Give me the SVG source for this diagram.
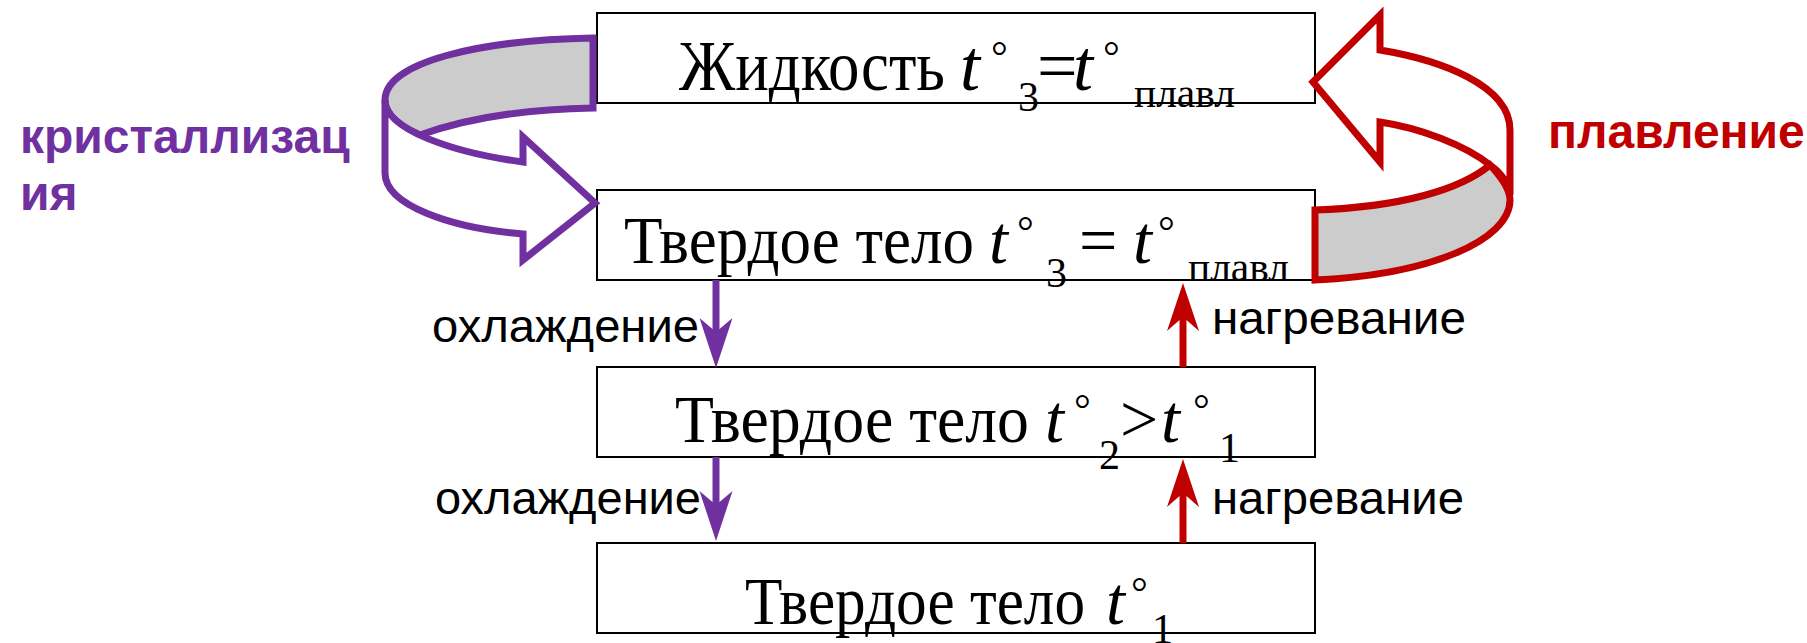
<svg xmlns="http://www.w3.org/2000/svg" width="1807" height="643" viewBox="0 0 1807 643">
<defs>
<style>
.box{fill:#fff;stroke:#000;stroke-width:2}
.t{font-family:"Liberation Serif","Times New Roman",serif;font-size:68px;fill:#000}
.t1{font-size:72px}
.i{font-style:italic}
.deg{font-size:42px}
.sub{font-size:42px}
.lbl{font-family:"Liberation Sans",Arial,sans-serif;font-size:47px;fill:#000}
.big{font-family:"Liberation Sans",Arial,sans-serif;font-size:48px;font-weight:bold}
.pur{stroke:#7030A0}
.red{stroke:#C00000}
.rib{stroke-width:7;stroke-linejoin:miter}
.shaft{stroke-width:7;fill:none}
</style>
<marker id="headP" markerUnits="userSpaceOnUse" markerWidth="60" markerHeight="40" refX="14" refY="17" orient="auto" viewBox="0 0 60 40">
<path d="M0,0.5 L50,17 L0,33.5 L14,17 Z" fill="#7030A0"/>
</marker>
<marker id="headR" markerUnits="userSpaceOnUse" markerWidth="60" markerHeight="40" refX="14" refY="17" orient="auto" viewBox="0 0 60 40">
<path d="M0,1 L48,17 L0,33 L14,17 Z" fill="#C00000"/>
</marker>
</defs>
<rect width="1807" height="643" fill="#fff"/>

<g id="node-liquid">
<rect class="box" x="597" y="13" width="718" height="90"/>
<text class="t t1" y="90"><tspan x="679" textLength="266" lengthAdjust="spacingAndGlyphs">Жидкость</tspan><tspan class="i" x="960">t</tspan><tspan class="deg" x="991" y="70">°</tspan><tspan class="sub" x="1018" y="111">3</tspan><tspan x="1037" y="90">=</tspan><tspan class="i" x="1073">t</tspan><tspan class="deg" x="1103" y="70">°</tspan><tspan class="sub" x="1134" y="107" textLength="101" lengthAdjust="spacingAndGlyphs">плавл</tspan></text>
</g>

<g id="node-solid-melt">
<rect class="box" x="597" y="190" width="718" height="90"/>
<text class="t" y="263"><tspan x="624" textLength="350" lengthAdjust="spacingAndGlyphs">Твердое тело</tspan><tspan class="i" x="989">t</tspan><tspan class="deg" x="1017" y="245">°</tspan><tspan class="sub" x="1046" y="287">3</tspan><tspan x="1079" y="263">=</tspan><tspan class="i" x="1133">t</tspan><tspan class="deg" x="1158" y="245">°</tspan><tspan class="sub" x="1188" y="281" textLength="101" lengthAdjust="spacingAndGlyphs">плавл</tspan></text>
</g>

<g id="node-solid-t2">
<rect class="box" x="597" y="367" width="718" height="90"/>
<text class="t" y="442"><tspan x="675" textLength="354" lengthAdjust="spacingAndGlyphs">Твердое тело</tspan><tspan class="i" x="1045">t</tspan><tspan class="deg" x="1074" y="423">°</tspan><tspan class="sub" x="1099" y="469">2</tspan><tspan x="1120" y="442">&gt;</tspan><tspan class="i" x="1161">t</tspan><tspan class="deg" x="1193" y="423">°</tspan><tspan class="sub" x="1219" y="462">1</tspan></text>
</g>

<g id="node-solid-t1">
<rect class="box" x="597" y="543" width="718" height="90"/>
<text class="t" y="624"><tspan x="745" textLength="340" lengthAdjust="spacingAndGlyphs">Твердое тело</tspan><tspan class="i" x="1106">t</tspan><tspan class="deg" x="1131" y="606">°</tspan><tspan class="sub" x="1152" y="643">1</tspan></text>
</g>

<g id="connectors">
<line class="shaft pur" x1="716" y1="280" x2="716" y2="332" marker-end="url(#headP)"/>
<line class="shaft pur" x1="716" y1="457" x2="716" y2="505" marker-end="url(#headP)"/>
<line class="shaft red" x1="1183" y1="367" x2="1183" y2="317" marker-end="url(#headR)"/>
<line class="shaft red" x1="1183" y1="543" x2="1183" y2="493" marker-end="url(#headR)"/>
</g>

<g id="ribbon-crystallization">
<path class="rib pur" fill="#CCCCCC" d="M593,38 C480,40 385,62 385,100 C385,115 400,127 420,135 C470,117 530,109 593,108 Z"/>
<path class="rib pur" fill="#fff" d="M385,100 L385,173 C385,205 450,228 523,234 L523,260 L595,203 L523,137 L523,162 C455,153 385,130 385,100 Z"/>
</g>

<g id="ribbon-melting">
<path class="rib red" fill="#fff" d="M1510,195 L1510,130 C1510,85 1440,60 1380,50 L1380,15 L1313,82 L1380,162 L1380,122 C1420,128 1465,145 1490,165 C1500,172 1508,182 1510,195 Z"/>
<path class="rib red" fill="#CCCCCC" d="M1315,210 C1400,207 1460,190 1490,165 C1502,178 1510,190 1510,200 C1510,240 1430,275 1315,280 Z"/>
</g>

<g id="labels">
<text class="lbl" x="432" y="342" textLength="267" lengthAdjust="spacingAndGlyphs">охлаждение</text>
<text class="lbl" x="435" y="514" textLength="266" lengthAdjust="spacingAndGlyphs">охлаждение</text>
<text class="lbl" x="1212" y="334" textLength="254" lengthAdjust="spacingAndGlyphs">нагревание</text>
<text class="lbl" x="1212" y="514" textLength="252" lengthAdjust="spacingAndGlyphs">нагревание</text>
<text class="big" fill="#7030A0"><tspan x="20" y="153">кристаллизац</tspan><tspan x="20" y="210">ия</tspan></text>
<text class="big" fill="#C00000" x="1548" y="148">плавление</text>
</g>
</svg>
